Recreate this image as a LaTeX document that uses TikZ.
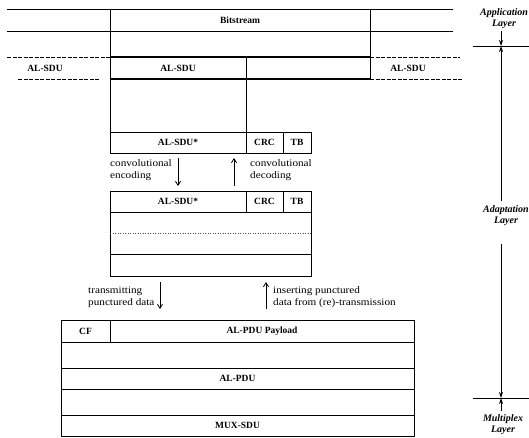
\documentclass[tikz,border=0pt]{standalone}
\usepackage{fontspec}
\setmainfont{Liberation Serif}
\newfontfamily\widefont[FakeStretch=1.12]{Liberation Serif}
\usetikzlibrary{arrows.meta}
\tikzset{
  lbl/.style={inner sep=0pt, font=\fontsize{9.5}{12}\selectfont\bfseries},
  arrlbl/.style={inner sep=0pt, align=left, anchor=west, font=\widefont\fontsize{10}{11.5}\selectfont},
  layerlbl/.style={inner sep=0pt, align=center, font=\fontsize{10}{11}\selectfont\bfseries\itshape},
  boxline/.style={line width=0.8pt},
  heavyline/.style={line width=1.8pt},
  faintline/.style={line width=0.6pt, dash pattern=on 4pt off 1.5pt},
  dotline/.style={line width=0.5pt, dash pattern=on 1pt off 1.5pt, black!70},
  flow/.style={line width=0.8pt, -{Straight Barb[length=4pt,width=5pt]}},
  axisarrow/.style={line width=0.8pt, -{Stealth[length=6pt,width=4pt]}},
}
\begin{document}
\begin{tikzpicture}[x=1pt,y=-1pt]
\useasboundingbox (0,0) rectangle (529,437);

% ---------- top (application) region ----------
\draw[boxline] (7,9) -- (453,9);
\draw[boxline] (7,31) -- (453,31);
\draw[faintline] (7,57) -- (110,57);
\draw[faintline] (370,57) -- (460,57);
\draw[faintline] (18,79) -- (100,79);
\draw[faintline] (370,79) -- (463,79);
\draw[heavyline] (110,57) -- (370,57);
\draw[heavyline] (110,79) -- (370,79);
\draw[boxline] (110,9) -- (110,153);
\draw[boxline] (370,9) -- (370,79);
\draw[boxline] (246,57) -- (246,132);

\node[lbl] (bits) at (240,20) {Bitstream};
\node[lbl] (sduL) at (45,68) {AL-SDU};
\node[lbl] (sduM) at (178,68) {AL-SDU};
\node[lbl] (sduR) at (408,68) {AL-SDU};

% ---------- AL-SDU* box ----------
\draw[boxline] (110,132) rectangle (311,153);
\draw[boxline] (246,132) -- (246,153);
\draw[boxline] (283,132) -- (283,153);
\node[lbl] (sduS1) at (178,142.5) {AL-SDU*};
\node[lbl] (crc1) at (264.5,142.5) {CRC};
\node[lbl] (tb1) at (297,142.5) {TB};

% ---------- coded box ----------
\draw[boxline] (110,191) rectangle (311,276);
\draw[boxline] (110,212) -- (311,212);
\draw[boxline] (246,191) -- (246,212);
\draw[boxline] (283,191) -- (283,212);
\draw[dotline] (110,233) -- (311,233);
\draw[boxline] (110,254) -- (311,254);
\node[lbl] (sduS2) at (178,201.5) {AL-SDU*};
\node[lbl] (crc2) at (264.5,201.5) {CRC};
\node[lbl] (tb2) at (297,201.5) {TB};

% ---------- convolutional arrows ----------
\coordinate (encA) at (178,158);
\coordinate (encB) at (178,186);
\coordinate (decA) at (234,186);
\coordinate (decB) at (234,158);
\draw[flow] (encA) -- (encB);
\draw[flow] (decA) -- (decB);
\node[arrlbl] (encl) at (110,170) {convolutional\\encoding};
\node[arrlbl] (decl) at (250,170) {convolutional\\decoding};

% ---------- puncturing arrows ----------
\coordinate (txA) at (160,282);
\coordinate (txB) at (160,309);
\coordinate (insA) at (266,309);
\coordinate (insB) at (266,282);
\draw[flow] (txA) -- (txB);
\draw[flow] (insA) -- (insB);
\node[arrlbl] (txl) at (88,297) {transmitting\\punctured data};
\node[arrlbl] (insl) at (273,297) {inserting punctured\\data from (re)-transmission};

% ---------- bottom (multiplex) box ----------
\draw[boxline] (61,320) rectangle (414,436);
\draw[boxline] (61,342) -- (414,342);
\draw[boxline] (61,368) -- (414,368);
\draw[boxline] (61,389) -- (414,389);
\draw[boxline] (61,415) -- (414,415);
\draw[boxline] (110,320) -- (110,342);
\node[lbl] (cf) at (85.5,331) {CF};
\node[lbl] (pay) at (262,331) {AL-PDU Payload};
\node[lbl] (pdu) at (237.5,378.5) {AL-PDU};
\node[lbl] (mux) at (237.5,425.5) {MUX-SDU};

% ---------- layer axis ----------
\draw[boxline] (473,46) -- (529,46);
\draw[boxline] (473,398) -- (529,398);
\node[layerlbl] (app) at (504,18.5) {Application\\Layer};
\node[layerlbl] (adapt) at (506,216) {Adaptation\\Layer};
\node[layerlbl] (mpx) at (503,424.5) {Multiplex\\Layer};
\coordinate (b1) at (501,46);
\coordinate (b2) at (501,398);
\coordinate (appEnd) at (501,31);
\coordinate (adTop) at (501,201);
\coordinate (adBot) at (501,244);
\coordinate (mpxEnd) at (501,411);
\draw[axisarrow] (appEnd) -- (b1);
\draw[axisarrow] (adTop) -- (b1);
\draw[axisarrow] (adBot) -- (b2);
\draw[axisarrow] (mpxEnd) -- (b2);
\end{tikzpicture}
\end{document}
